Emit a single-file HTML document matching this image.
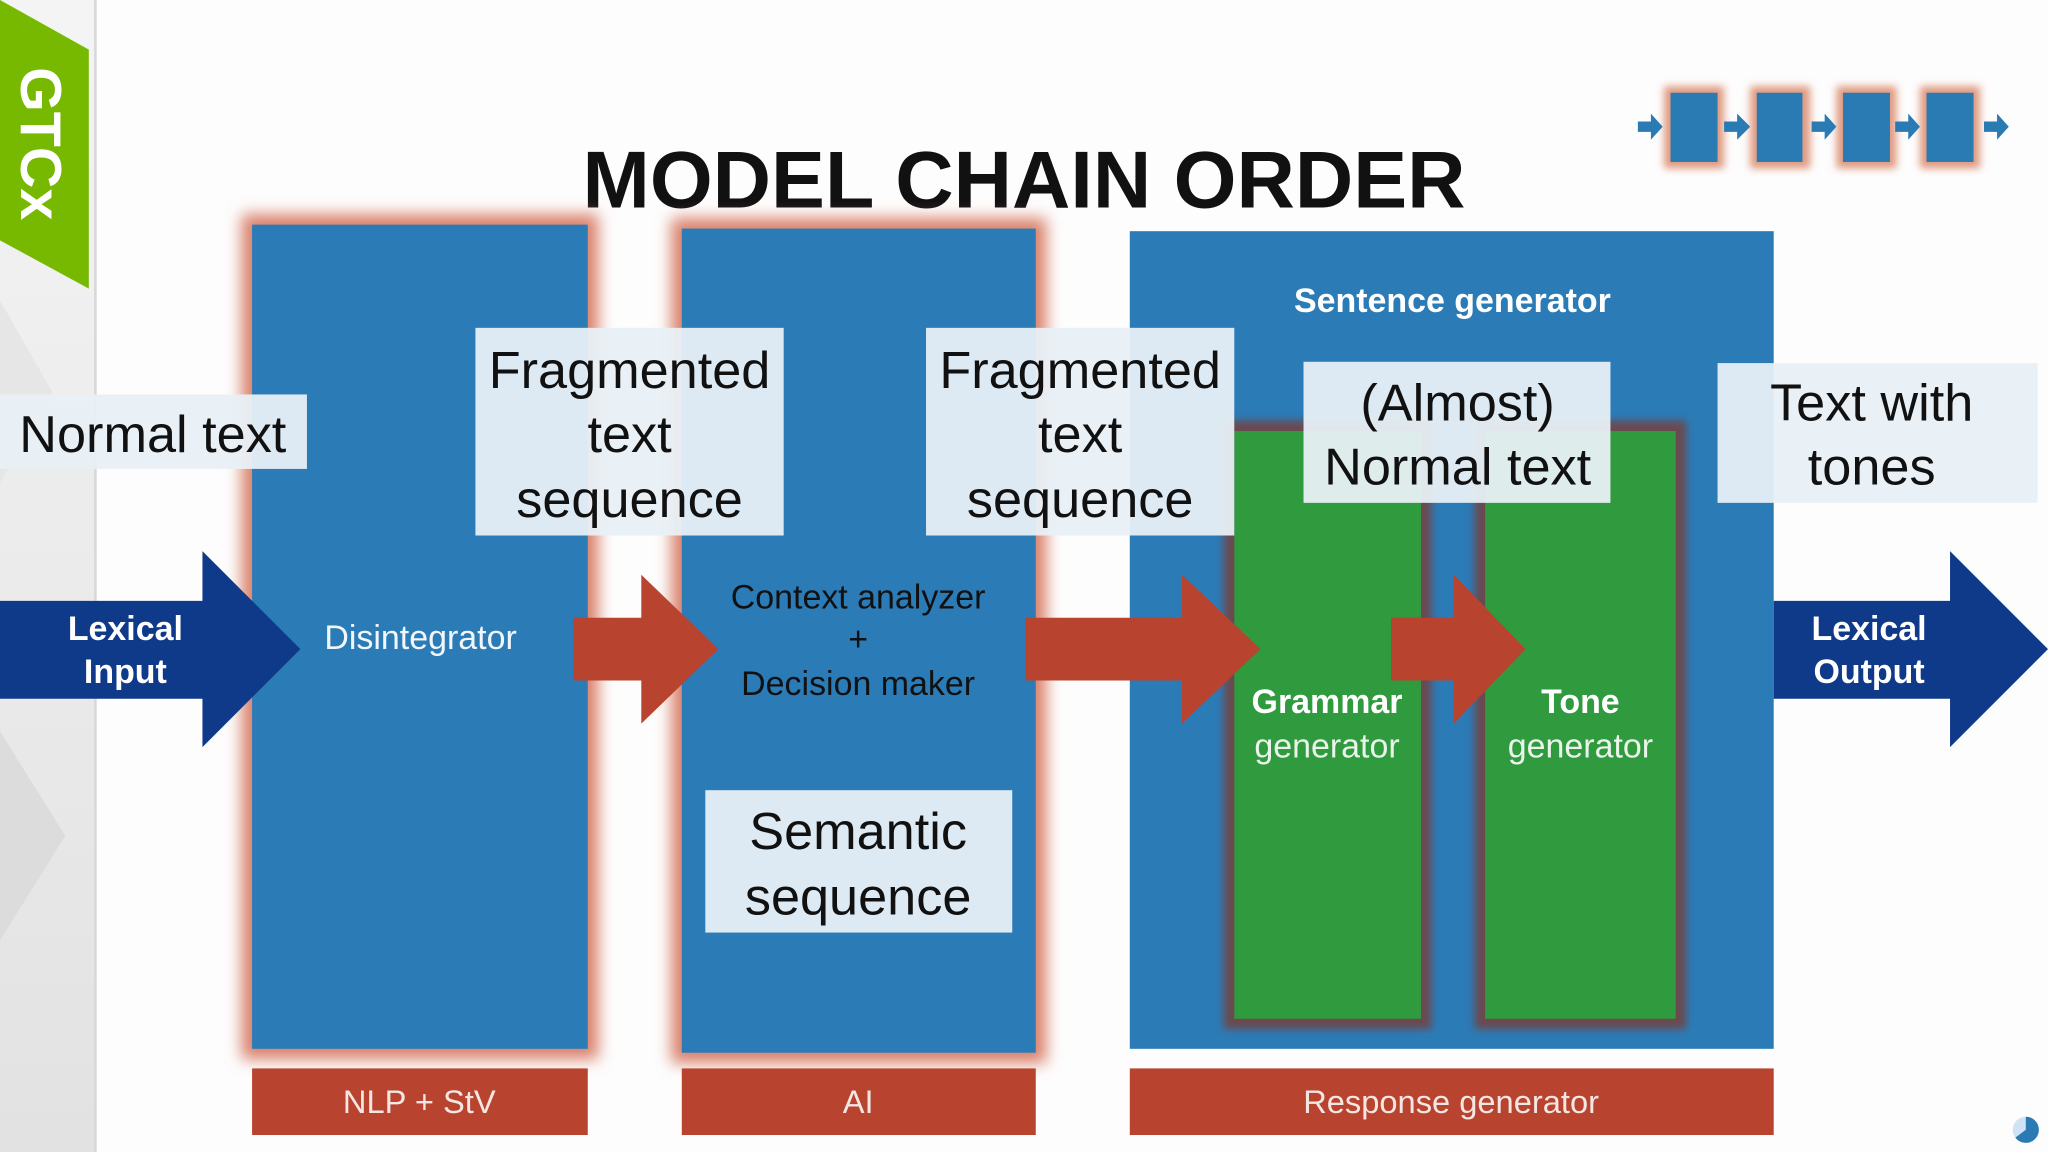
<!DOCTYPE html>
<html><head><meta charset="utf-8"><style>
html,body{margin:0;padding:0;background:#fff;}
svg{display:block;}
text{font-family:"Liberation Sans","DejaVu Sans",sans-serif;}
</style></head><body>
<svg width="2048" height="1152" viewBox="0 0 1568 882" xmlns="http://www.w3.org/2000/svg">
<defs>
<filter id="glow" x="-20%" y="-20%" width="140%" height="140%"><feGaussianBlur stdDeviation="6"/></filter>
<filter id="glow2" x="-20%" y="-20%" width="140%" height="140%"><feGaussianBlur stdDeviation="3"/></filter>
<linearGradient id="lg" x1="0" y1="0" x2="0" y2="1"><stop offset="0" stop-color="#f4f4f4"/><stop offset="1" stop-color="#e2e2e2"/></linearGradient>
</defs>
<rect width="1568" height="882" fill="#fdfdfd"/>
<!-- left strip -->
<rect x="0" y="0" width="72" height="882" fill="url(#lg)"/>
<polygon points="0,230 40,300 0,370" fill="#e6e6e6"/>
<polygon points="0,560 50,640 0,720" fill="#dcdcdc"/>
<rect x="72" y="0" width="2" height="882" fill="#d8d8d8"/>
<polygon points="0,0 68,38 68,221 0,184" fill="#76b900"/>
<text transform="translate(16,110) rotate(90)" text-anchor="middle" font-size="44" font-weight="bold" fill="#fff">GTCx</text>

<!-- title -->
<text x="784" y="159" text-anchor="middle" font-size="62" font-weight="bold" fill="#111" textLength="676" lengthAdjust="spacingAndGlyphs">MODEL CHAIN ORDER</text>

<!-- top-right icon -->
<g>
<rect x="1274" y="66" width="46" height="63" fill="#e09a80" filter="url(#glow2)"/>
<rect x="1340" y="66" width="46" height="63" fill="#e09a80" filter="url(#glow2)"/>
<rect x="1406" y="66" width="46" height="63" fill="#e09a80" filter="url(#glow2)"/>
<rect x="1470" y="66" width="46" height="63" fill="#e09a80" filter="url(#glow2)"/>
<rect x="1279" y="71" width="36" height="53" fill="#2a7ab3"/>
<rect x="1345" y="71" width="35" height="53" fill="#2a7ab3"/>
<rect x="1411" y="71" width="36" height="53" fill="#2a7ab3"/>
<rect x="1475" y="71" width="36" height="53" fill="#2a7ab3"/>
<g fill="#2a7ab3">
<polygon points="1254,93 1264,93 1264,87 1273,97 1264,107 1264,101 1254,101"/>
<polygon points="1320,93 1330,93 1330,87 1340,97 1330,107 1330,101 1320,101"/>
<polygon points="1387,93 1397,93 1397,87 1406,97 1397,107 1397,101 1387,101"/>
<polygon points="1451,93 1461,93 1461,87 1470,97 1461,107 1461,101 1451,101"/>
<polygon points="1519,93 1529,93 1529,87 1538,97 1529,107 1529,101 1519,101"/>
</g>
</g>

<!-- glows -->
<rect x="185" y="164" width="273" height="647" fill="#d9806a" filter="url(#glow)"/>
<rect x="514" y="167" width="287" height="647" fill="#d9806a" filter="url(#glow)"/>
<!-- blue boxes -->
<rect x="193" y="172" width="257" height="631" fill="#2b7bb7"/>
<rect x="522" y="175" width="271" height="631" fill="#2b7bb7"/>
<rect x="865" y="177" width="493" height="626" fill="#2b7bb7"/>
<!-- green boxes -->
<rect x="937" y="322" width="159" height="466" fill="#6a4a50" filter="url(#glow2)"/>
<rect x="1129" y="322" width="162" height="466" fill="#6a4a50" filter="url(#glow2)"/>
<rect x="945" y="330" width="143" height="450" fill="#2f9a3e"/>
<rect x="1137" y="330" width="146" height="450" fill="#2f9a3e"/>

<!-- bottom labels -->
<rect x="193" y="818" width="257" height="51" fill="#b8432f"/>
<rect x="522" y="818" width="271" height="51" fill="#b8432f"/>
<rect x="865" y="818" width="493" height="51" fill="#b8432f"/>
<text x="321" y="852" text-anchor="middle" font-size="25" fill="#f4e6e2">NLP + StV</text>
<text x="657" y="852" text-anchor="middle" font-size="25" fill="#f4e6e2">AI</text>
<text x="1111" y="852" text-anchor="middle" font-size="25" fill="#f4e6e2">Response generator</text>

<!-- red arrows -->
<g fill="#b8432f">
<polygon points="439,473 491,473 491,440 550,497 491,554 491,521 439,521"/>
<polygon points="785,473 905,473 905,440 965,497 905,554 905,521 785,521"/>
<polygon points="1065,473 1113,473 1113,440 1168,497 1113,554 1113,521 1065,521"/>
</g>
<!-- dark blue arrows -->
<g fill="#0f3a8a">
<polygon points="0,460 155,460 155,422 230,497 155,572 155,535 0,535"/>
<polygon points="1358,460 1493,460 1493,422 1568,497 1493,572 1493,535 1358,535"/>
</g>

<!-- label boxes -->
<g fill="#e8f0f6" fill-opacity="0.95">
<rect x="0" y="302" width="235" height="57"/>
<rect x="364" y="251" width="236" height="159"/>
<rect x="709" y="251" width="236" height="159"/>
<rect x="998" y="277" width="235" height="108"/>
<rect x="1315" y="278" width="245" height="107"/>
<rect x="540" y="605" width="235" height="109"/>
</g>
<g font-size="40" fill="#111" text-anchor="middle">
<text x="117" y="346">Normal text</text>
<text x="482" y="297">Fragmented</text>
<text x="482" y="346">text</text>
<text x="482" y="396">sequence</text>
<text x="827" y="297">Fragmented</text>
<text x="827" y="346">text</text>
<text x="827" y="396">sequence</text>
<text x="1116" y="322">(Almost)</text>
<text x="1116" y="371">Normal text</text>
<text x="1433" y="322">Text with</text>
<text x="1433" y="371">tones</text>
<text x="657" y="650">Semantic</text>
<text x="657" y="700">sequence</text>
</g>

<!-- inner texts -->
<text x="322" y="497" text-anchor="middle" font-size="26" fill="#f2f6fa">Disintegrator</text>
<g font-size="26" fill="#111" text-anchor="middle">
<text x="657" y="466">Context analyzer</text>
<text x="657" y="498">+</text>
<text x="657" y="532">Decision maker</text>
</g>
<text x="1112" y="239" text-anchor="middle" font-size="26" font-weight="bold" fill="#fff">Sentence generator</text>
<text x="1016" y="546" text-anchor="middle" font-size="26" font-weight="bold" fill="#fff">Grammar</text>
<text x="1016" y="580" text-anchor="middle" font-size="26" fill="#eaf4ea">generator</text>
<text x="1210" y="546" text-anchor="middle" font-size="26" font-weight="bold" fill="#fff">Tone</text>
<text x="1210" y="580" text-anchor="middle" font-size="26" fill="#eaf4ea">generator</text>
<g font-size="26" font-weight="bold" fill="#fff" text-anchor="middle">
<text x="96" y="490">Lexical</text>
<text x="96" y="523">Input</text>
<text x="1431" y="490">Lexical</text>
<text x="1431" y="523">Output</text>
</g>
<!-- pie -->
<circle cx="1551" cy="865" r="10" fill="#cfe3f5"/>
<path d="M1551,865 L1551,855 A10,10 0 1,1 1543,871 Z" fill="#2a7ab3"/>
</svg>
</body></html>
